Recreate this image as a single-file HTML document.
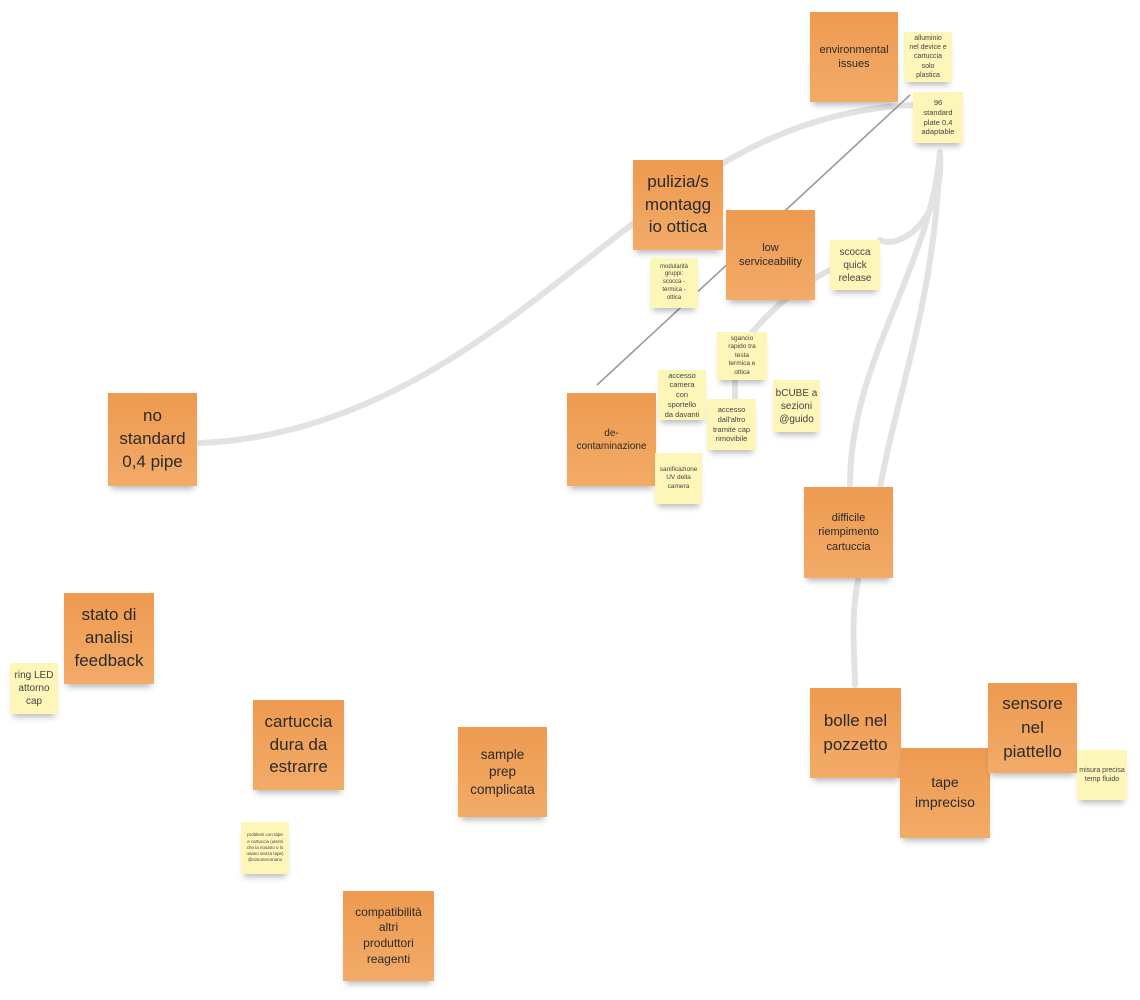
<!DOCTYPE html>
<html><head><meta charset="utf-8"><style>
body{margin:0;width:1140px;height:1000px;background:#fff;position:relative;overflow:hidden;font-family:"Liberation Sans","DejaVu Sans",sans-serif;color:#2a2a2a}
.s{position:absolute;display:flex;align-items:center;justify-content:center;text-align:center;box-sizing:border-box;padding:3px 8px;line-height:1.3;box-shadow:0 6px 6px -3px rgba(0,0,0,0.28)}
.o{background:linear-gradient(#ee9a50,#f2ab68)}
.y{background:#fcf6b9;color:#444;padding:3px 5px}
svg{position:absolute;left:0;top:0}
</style></head><body>
<svg width="1140" height="1000">
<g fill="none" stroke="#e2e2e2" stroke-width="6" stroke-linecap="round">
<path d="M200,443 C400,435 540,290 645,215 C720,160 800,110 913,105"/>
<path d="M940,152 C945,220 900,250 880,240"/>
<path d="M830,270 C800,285 770,310 750,335"/>
<path d="M940,152 C930,270 850,360 850,485"/>
<path d="M940,152 C935,300 900,380 880,488"/>
<path d="M858,580 C850,620 855,660 855,685"/>
<path d="M735,380 L735,400"/>
</g>
<path d="M597,385 L910,95" stroke="#9a9a9a" stroke-width="1.6" fill="none"/>
</svg>

<div class="s o" style="left:810px;top:12px;width:88px;height:90px;font-size:11px">environmental issues</div>
<div class="s y" style="left:904px;top:32px;width:48px;height:50px;font-size:7px">alluminio nel device e cartuccia solo plastica</div>
<div class="s y" style="left:913px;top:92px;width:50px;height:51px;font-size:7.5px;padding:3px 7px">96 standard plate 0,4 adaptable</div>
<div class="s o" style="left:633px;top:160px;width:90px;height:90px;font-size:17px;line-height:1.35;padding:3px">pulizia/s montagg io ottica</div>
<div class="s o" style="left:726px;top:210px;width:89px;height:90px;font-size:11px;padding:3px 12px">low serviceability</div>
<div class="s y" style="left:830px;top:240px;width:50px;height:50px;font-size:10px">scocca quick release</div>
<div class="s y" style="left:650px;top:258px;width:48px;height:50px;font-size:6px">modularità gruppi: scocca - termica - ottica</div>
<div class="s y" style="left:717px;top:332px;width:50px;height:48px;font-size:6.5px;padding:3px 7px">sgancio rapido tra testa termica e ottica</div>
<div class="s y" style="left:658px;top:370px;width:48px;height:50px;font-size:7.5px">accesso camera con sportello da davanti</div>
<div class="s y" style="left:707px;top:399px;width:49px;height:51px;font-size:7.5px">accesso dall'altro tramite cap rimovibile</div>
<div class="s y" style="left:773px;top:380px;width:47px;height:52px;font-size:10px;padding:3px 2px">bCUBE a sezioni @guido</div>
<div class="s o" style="left:567px;top:393px;width:89px;height:93px;font-size:10px;padding:3px">de-contaminazione</div>
<div class="s y" style="left:655px;top:453px;width:47px;height:51px;font-size:6.5px">sanificazione UV della camera</div>
<div class="s o" style="left:108px;top:393px;width:89px;height:93px;font-size:17px;line-height:1.35">no standard 0,4 pipe</div>
<div class="s o" style="left:804px;top:487px;width:89px;height:91px;font-size:11px">difficile riempimento cartuccia</div>
<div class="s o" style="left:64px;top:593px;width:90px;height:91px;font-size:17px;line-height:1.35;padding:3px">stato di analisi feedback</div>
<div class="s y" style="left:10px;top:663px;width:48px;height:51px;font-size:10px;padding:3px 2px">ring LED attorno cap</div>
<div class="s o" style="left:253px;top:700px;width:91px;height:90px;font-size:17px;line-height:1.35;padding:3px">cartuccia dura da estrarre</div>
<div class="s o" style="left:458px;top:727px;width:89px;height:90px;font-size:13.5px;padding:3px 8px">sample prep complicata</div>
<div class="s y" style="left:241px;top:822px;width:48px;height:52px;font-size:4.5px;line-height:1.4">problemi con tape e cartuccia (utenti che la riusano o lo usano senza tape) @simoneromano</div>
<div class="s o" style="left:343px;top:891px;width:91px;height:90px;font-size:12px;padding:3px 12px">compatibilità altri produttori reagenti</div>
<div class="s o" style="left:810px;top:688px;width:91px;height:90px;font-size:17px;line-height:1.4;padding:3px">bolle nel pozzetto</div>
<div class="s o" style="left:900px;top:748px;width:90px;height:90px;font-size:14px;line-height:1.4">tape impreciso</div>
<div class="s o" style="left:988px;top:683px;width:89px;height:90px;font-size:17px;line-height:1.4;padding:3px">sensore nel piattello</div>
<div class="s y" style="left:1077px;top:750px;width:50px;height:50px;font-size:7px;padding:3px 2px">misura precisa temp fluido</div>
</body></html>
